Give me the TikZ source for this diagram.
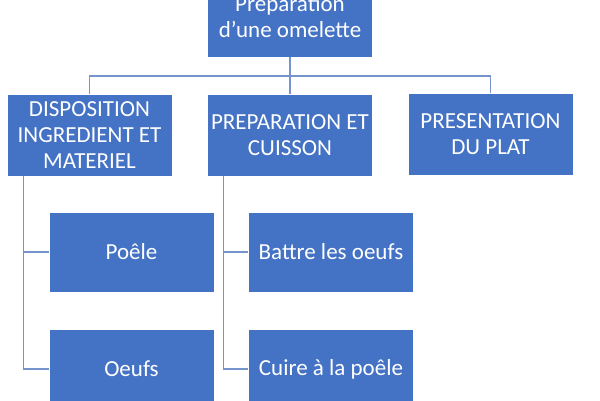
\documentclass[tikz,border=0pt]{standalone}
\usepackage{fontspec}
\setmainfont{Carlito}
\usetikzlibrary{calc}
\definecolor{boxblue}{HTML}{4472C4}
\definecolor{linkblue}{RGB}{118,148,204}
\tikzset{
  box/.style={rectangle, fill=boxblue, draw=white, line width=0.6pt, text=white,
    minimum width=165pt, minimum height=81pt, inner sep=2pt, align=center,
    font=\fontsize{23}{26}\selectfont},
  link/.style={draw=linkblue, line width=1.3pt}
}
\begin{document}
\begin{tikzpicture}[x=1pt,y=-1pt]
\useasboundingbox (0,0) rectangle (600,400);
\clip (0,0) rectangle (600,400);
\fill[white] (0,0) rectangle (600,400);
\node[box, minimum height=80pt] (top) at (290,17) {Préparation\\d'une omelette};
\node[box, minimum height=82pt] (dispo) at (89.5,135) {DISPOSITION\\INGREDIENT ET\\MATERIEL};
\node[box, minimum height=82pt] (prep) at (290,135) {PREPARATION ET\\CUISSON};
\node[box, minimum height=82pt] (pres) at (490.5,134) {PRESENTATION\\DU PLAT};
\node[box, minimum height=80pt] (poele) at (131.5,252) {Poêle};
\node[box, minimum height=80pt] (oeufs) at (131.5,369) {Oeufs};
\node[box, minimum height=80pt] (battre) at (331,252) {Battre les oeufs};
\node[box, minimum height=80pt] (cuire) at (331,369) {Cuire à la poêle};
\coordinate (bus) at (290,76);
\coordinate (ra) at ($(dispo.south west)+(17,0)$);
\coordinate (rb) at ($(prep.south west)+(16,0)$);
\draw[link] (top.south) -- (prep.north);
\draw[link] (dispo.north) |- (bus);
\draw[link] (pres.north) |- (bus);
\draw[link] (ra) |- (poele.west);
\draw[link] (ra) |- (oeufs.west);
\draw[link] (rb) |- (battre.west);
\draw[link] (rb) |- (cuire.west);
\end{tikzpicture}
\end{document}
